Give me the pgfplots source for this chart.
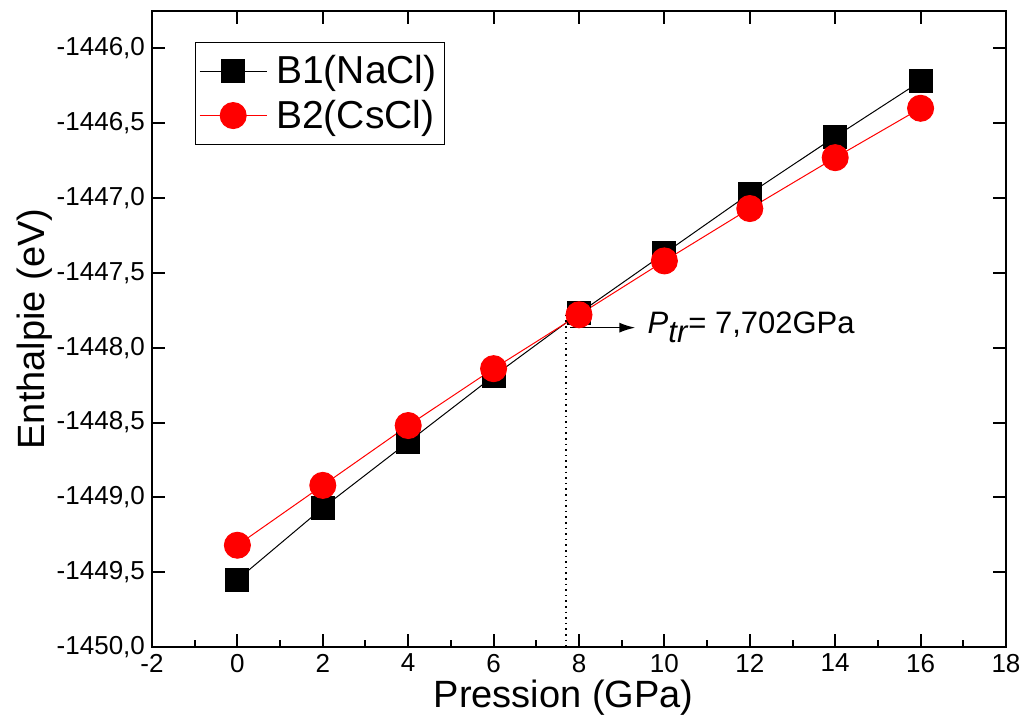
\documentclass[border=0pt]{standalone}
\usepackage{fontspec}
\setmainfont{Liberation Sans}
\usepackage{pgfplots}
\pgfplotsset{compat=1.18}
\usetikzlibrary{arrows.meta}

\begin{document}
\begin{tikzpicture}
% page frame: 1px of the reference = 0.5pt
\path[use as bounding box] (-76pt,-36.5pt) rectangle (436pt,323.5pt);
\pgfplotsset{
  myaxis/.style={
    at={(0,0)}, anchor=south west,
    width=427pt, height=318pt, scale only axis,
    xmin=-2, xmax=18, ymin=-1450, ymax=-1445.75,
    axis line style={line width=1pt},
    tick align=inside,
    major tick length=6.5pt, minor tick length=3.5pt,
    every tick/.style={black, line width=1pt},
  },
}
\begin{axis}[
  myaxis,
  xtick={-2,0,...,18}, minor x tick num=1,
  ytick={-1450,-1449.5,...,-1446}, minor y tick num=1,
  xtick pos=bottom, ytick pos=both,
  tick label style={font=\fontsize{13}{15}\selectfont},
  /pgf/number format/assume math mode=true,
  yticklabel style={/pgf/number format/.cd, use comma, fixed, fixed zerofill, precision=1, 1000 sep={}},
  xticklabel style={/pgf/number format/.cd, 1000 sep={}},
  xlabel={Pression (GPa)},
  ylabel={Enthalpie (eV)},
  label style={font=\fontsize{19}{22}\selectfont},
  xlabel style={at={(axis description cs:0.482,-0.079)}, anchor=center},
  ylabel style={at={(axis description cs:-0.137,0.5)}, anchor=center},
  legend style={at={(axis description cs:0.05,0.951)}, anchor=north west,
    draw=black, line width=0.5pt, font=\fontsize{19.5}{23}\selectfont,
    inner xsep=2pt, inner ysep=4.5pt, row sep=2.5pt},
  legend cell align=left,
  legend image code/.code={
    \draw[mark repeat=2, mark phase=2] plot coordinates {(0pt,0pt) (16.75pt,0pt) (33.5pt,0pt)};
    \path (36pt,0pt);
  },
]
\addplot[black, line width=0.5pt, mark=square*, mark size=5.75pt,
  mark options={fill=black, solid}] coordinates {
  (0,-1449.55) (2,-1449.07) (4,-1448.63) (6,-1448.19) (8,-1447.77)
  (10,-1447.37) (12,-1446.97) (14,-1446.59) (16,-1446.22)
};
\addlegendentry{B1(NaCl)}
\addplot[red, line width=0.5pt, mark=*, mark size=6.5pt,
  mark options={fill=red, draw=red, solid}] coordinates {
  (0,-1449.32) (2,-1448.92) (4,-1448.52) (6,-1448.14) (8,-1447.78)
  (10,-1447.42) (12,-1447.07) (14,-1446.73) (16,-1446.40)
};
\addlegendentry{B2(CsCl)}
\draw[black, dotted, line width=0.8pt] (axis cs:7.702,-1447.78) -- (axis cs:7.702,-1450);
\draw[black, line width=0.8pt, -{Latex[length=8pt,width=5pt]}] (axis cs:7.8,-1447.866) -- (axis cs:9.32,-1447.866);
\node[anchor=west, inner sep=0pt, font=\fontsize{15.5}{18}\selectfont] at (axis cs:9.6,-1447.866)
  {\textit{P}\raisebox{-0.55ex}{\textit{tr}}= 7,702GPa};
\end{axis}
\begin{axis}[
  myaxis,
  axis x line*=top, hide y axis,
  xtick={-2,0,...,18}, xticklabels={},
]
\end{axis}
\end{tikzpicture}
\end{document}
